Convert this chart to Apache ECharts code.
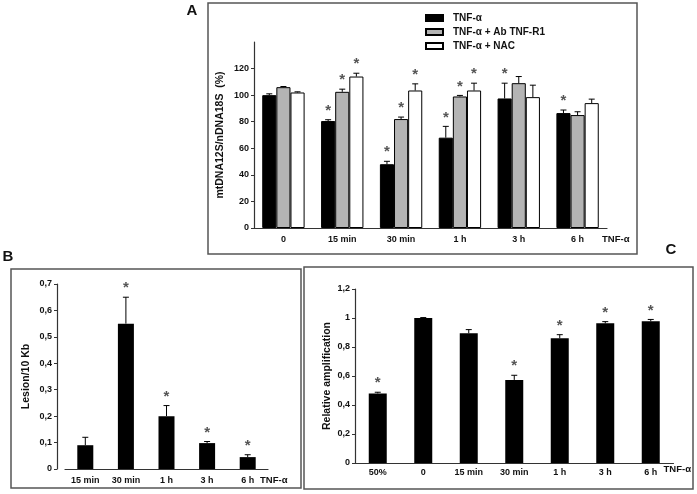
<!DOCTYPE html>
<html><head><meta charset="utf-8">
<script src="https://cdn.jsdelivr.net/npm/echarts@6/dist/echarts.min.js"></script>
<style>html,body{margin:0;padding:0;background:#fff}#c{width:697px;height:494px}</style>
</head><body><div id="c"></div><script>
// ---- Panel A data ----
const catsA = ['0', '15 min', '30 min', '1 h', '3 h', '6 h'];
const namesA = ['TNF-\u03b1', 'TNF-\u03b1 + Ab TNF-R1', 'TNF-\u03b1 + NAC'];
const tnfA = [100, 80.5, 48, 68, 97.5, 86.5];
const tnfSdA = [1, 1, 2.2, 8.5, 11.5, 2.3];
const tnfStarA = [0, 1, 1, 1, 1, 1];
const abA = [106, 102.5, 82, 99, 109, 85];
const abSdA = [0.5, 2, 1.5, 0.8, 5, 2.5];
const abStarA = [0, 1, 1, 1, 0, 0];
const nacA = [102, 114, 103.5, 103.5, 98.5, 94];
const nacSdA = [0.5, 2.5, 5, 5.5, 9, 3];
const nacStarA = [0, 1, 1, 1, 0, 0];
const ticksA = [0, 20, 40, 60, 80, 100, 120];
// ---- Panel B data ----
const catsB = ['15 min', '30 min', '1 h', '3 h', '6 h'];
const lesionB = [0.09, 0.55, 0.2, 0.098, 0.045];
const lesionSdB = [0.03, 0.1, 0.04, 0.006, 0.009];
const lesionStarB = [0, 1, 1, 1, 1];
// ---- Panel C data ----
const catsC = ['50%', '0', '15 min', '30 min', '1 h', '3 h', '6 h'];
const ampC = [0.48, 1.0, 0.895, 0.573, 0.86, 0.963, 0.977];
const ampSdC = [0.008, 0.003, 0.025, 0.032, 0.025, 0.012, 0.013];
const ampStarC = [1, 0, 0, 1, 1, 1, 1];

const FF = '"Liberation Sans", Arial, sans-serif';
const comma = v => v === 0 ? '0' : String(+v.toFixed(1)).replace('.', ',');

function errData(vals, sds, stars) {
  return vals.map((v, i) => [i, v, sds[i], stars[i]]);
}
function errRender(offsetFrac) {
  return function (params, api) {
    const x = api.value(0), v = api.value(1), sd = api.value(2), st = api.value(3);
    const band = api.size([1, 0])[0];
    const base = api.coord([x, v]);
    const top = api.coord([x, v + sd]);
    const cx = base[0] + offsetFrac * band;
    const ch = [
      {type: 'line', shape: {x1: cx, y1: base[1], x2: cx, y2: top[1]}, style: {stroke: '#000', lineWidth: 1}},
      {type: 'line', shape: {x1: cx - 3, y1: top[1], x2: cx + 3, y2: top[1]}, style: {stroke: '#000', lineWidth: 1}}
    ];
    if (st) ch.push({type: 'text', style: {text: '*', x: cx, y: top[1] - 9, textAlign: 'center', textVerticalAlign: 'middle', fill: '#555', font: 'bold 15px ' + FF}});
    return {type: 'group', children: ch};
  };
}
const axisLineStyle = {lineStyle: {color: '#333', width: 1.2}};
const lbl = {fontFamily: FF, fontWeight: 'bold', fontSize: 9, color: '#111'};
function xAx(idx, cats, gap, margin, namePad) {
  return {
    type: 'category', gridIndex: idx, data: cats,
    axisLine: axisLineStyle, axisTick: {show: false},
    axisLabel: Object.assign({margin: margin, interval: 0}, lbl),
    name: 'TNF-\u03b1', nameLocation: 'end', nameGap: gap,
    nameTextStyle: {fontFamily: FF, fontWeight: 'bold', fontSize: 9.5, color: '#111', align: 'left', verticalAlign: 'top', padding: [namePad, 0, 0, 0]}
  };
}
function yAx(idx, min, max, interval, name, nameGap, fmt, custom, offset) {
  const o = {
    type: 'value', gridIndex: idx, min: min, max: max, interval: interval,
    splitLine: {show: false}, axisLine: {show: true, ...axisLineStyle},
    axisTick: {show: true, length: 3, inside: false, lineStyle: {color: '#333'}},
    axisLabel: Object.assign({margin: 5, formatter: fmt}, lbl),
    name: name, nameLocation: 'middle', nameGap: nameGap, offset: offset || 0,
    nameMoveOverlap: false,
    nameTextStyle: {fontFamily: FF, fontWeight: 'bold', fontSize: 10.5, color: '#111'}
  };
  if (custom) { o.axisLabel.customValues = custom; o.axisTick.customValues = custom; }
  return o;
}
const chart = echarts.init(document.getElementById('c'), null, {renderer: 'canvas'});
const bwA = 0.24;
chart.setOption({
  animation: false,
  backgroundColor: '#fff',
  legend: {
    data: namesA, orient: 'vertical', left: 425, top: 13, padding: 0,
    itemWidth: 17, itemHeight: 6, itemGap: 4, icon: 'rect',
    textStyle: {fontFamily: FF, fontWeight: 'bold', fontSize: 10, color: '#111', padding: [0, 0, 0, 5]}
  },
  graphic: [
    {type: 'rect', shape: {x: 208, y: 3, width: 429, height: 251}, style: {fill: 'none', stroke: '#555', lineWidth: 1.5}},
    {type: 'rect', shape: {x: 11, y: 269, width: 290, height: 219}, style: {fill: 'none', stroke: '#555', lineWidth: 1.5}},
    {type: 'rect', shape: {x: 304, y: 267, width: 389, height: 222}, style: {fill: 'none', stroke: '#555', lineWidth: 1.5}},
    {type: 'text', style: {text: 'A', x: 192, y: 11, textAlign: 'center', textVerticalAlign: 'middle', font: 'bold 15px ' + FF, fill: '#111'}},
    {type: 'text', style: {text: 'B', x: 8, y: 257, textAlign: 'center', textVerticalAlign: 'middle', font: 'bold 15px ' + FF, fill: '#111'}},
    {type: 'text', style: {text: 'C', x: 671, y: 250, textAlign: 'center', textVerticalAlign: 'middle', font: 'bold 15px ' + FF, fill: '#111'}}
  ],
  grid: [
    {left: 254, right: 90, top: 42, bottom: 266, containLabel: false},
    {left: 65, right: 429, top: 284, bottom: 25, containLabel: false},
    {left: 355, right: 23.5, top: 289, bottom: 31, containLabel: false}
  ],
  xAxis: [xAx(0, catsA, -5, 7, 6), xAx(1, catsB, -8, 7, 6), xAx(2, catsC, -10, 5, 1)],
  yAxis: [
    yAx(0, 0, 140, 20, 'mtDNA12S/nDNA18S  (%)', 28, v => String(v), ticksA),
    yAx(1, 0, 0.7, 0.1, 'Lesion/10 Kb', 25, comma, null, 8),
    yAx(2, 0, 1.2, 0.2, 'Relative amplification', 22, comma)
  ],
  series: [
    {type: 'bar', name: namesA[0], xAxisIndex: 0, yAxisIndex: 0, data: tnfA, barWidth: '24%', barGap: '0%', itemStyle: {color: '#000', borderColor: '#000', borderWidth: 1}},
    {type: 'bar', name: namesA[1], xAxisIndex: 0, yAxisIndex: 0, data: abA, barWidth: '24%', barGap: '0%', itemStyle: {color: '#b4b4b4', borderColor: '#000', borderWidth: 1}},
    {type: 'bar', name: namesA[2], xAxisIndex: 0, yAxisIndex: 0, data: nacA, barWidth: '24%', barGap: '0%', itemStyle: {color: '#fff', borderColor: '#000', borderWidth: 1}},
    {type: 'custom', xAxisIndex: 0, yAxisIndex: 0, data: errData(tnfA, tnfSdA, tnfStarA), renderItem: errRender(-bwA), encode: {x: 0, y: 1}, z: 5},
    {type: 'custom', xAxisIndex: 0, yAxisIndex: 0, data: errData(abA, abSdA, abStarA), renderItem: errRender(0), encode: {x: 0, y: 1}, z: 5},
    {type: 'custom', xAxisIndex: 0, yAxisIndex: 0, data: errData(nacA, nacSdA, nacStarA), renderItem: errRender(bwA), encode: {x: 0, y: 1}, z: 5},
    {type: 'bar', xAxisIndex: 1, yAxisIndex: 1, data: lesionB, barWidth: 16, itemStyle: {color: '#000'}},
    {type: 'custom', xAxisIndex: 1, yAxisIndex: 1, data: errData(lesionB, lesionSdB, lesionStarB), renderItem: errRender(0), encode: {x: 0, y: 1}, z: 5},
    {type: 'bar', xAxisIndex: 2, yAxisIndex: 2, data: ampC, barWidth: 18, itemStyle: {color: '#000'}},
    {type: 'custom', xAxisIndex: 2, yAxisIndex: 2, data: errData(ampC, ampSdC, ampStarC), renderItem: errRender(0), encode: {x: 0, y: 1}, z: 5}
  ]
});
</script></body></html>
